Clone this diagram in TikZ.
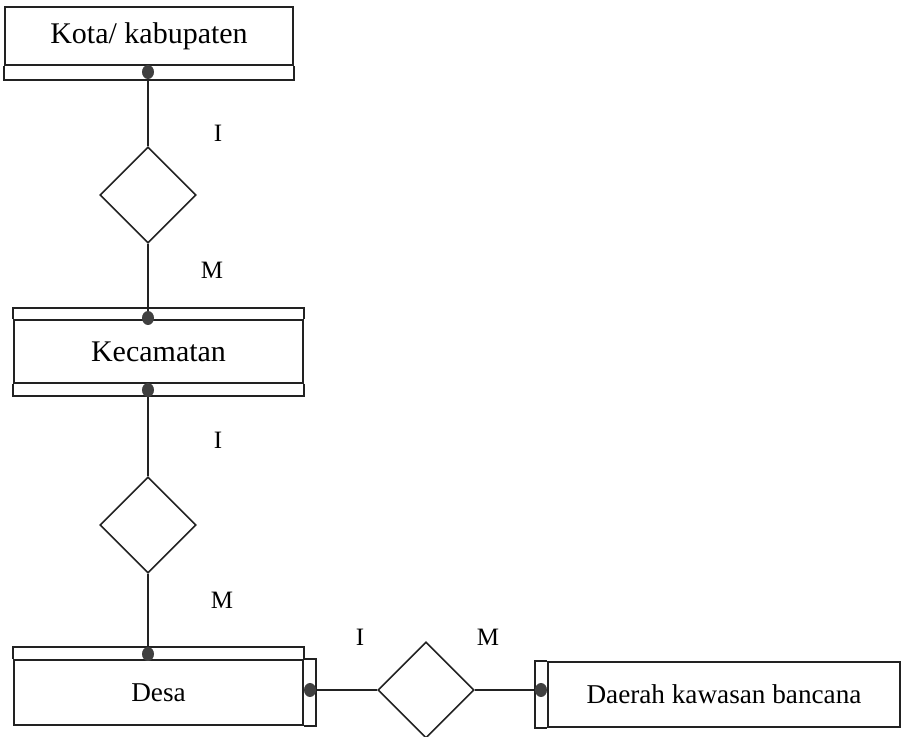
\documentclass[tikz,border=0pt]{standalone}
\usepackage{fontspec}
\setmainfont{Liberation Serif}
\usetikzlibrary{shapes.geometric,calc}
\definecolor{inkc}{HTML}{222222}
\definecolor{dotc}{HTML}{404040}
\begin{document}
\begin{tikzpicture}[x=0.5pt,y=-0.5pt,line width=0.8pt,draw=inkc]
\tikzstyle{ent}=[draw,inner sep=0pt,minimum height=31.5pt,minimum width=144.5pt,font=\fontsize{15}{18}\selectfont]
\tikzstyle{rel}=[draw,diamond,inner sep=0pt,minimum width=48pt,minimum height=48pt]
\tikzstyle{card}=[font=\fontsize{12.5}{15}\selectfont]
\useasboundingbox (0,0) rectangle (902,737);
% entities
\node[ent,minimum width=144pt,minimum height=29pt] (kota) at (149,36) {Kota/ kabupaten};
\draw (kota.south west) -- ++(0,-7pt) -| (kota.south east);
\node[ent] (kec) at (158.5,351.5) {Kecamatan};
\draw (kec.north west) -- ++(0,5.5pt) -| (kec.north east);
\draw (kec.south west) -- ++(0,-6pt) -| (kec.south east);
\node[ent,minimum height=32.5pt,font=\fontsize{13.6}{16}\selectfont] (desa) at (158.5,692.5) {Desa};
\draw (desa.north west) -- ++(0,6pt) -| (desa.north east);
\draw (desa.north east) -- ++(6pt,0) |- (desa.south east);
\node[ent,minimum width=176pt,minimum height=32.5pt,font=\fontsize{13.6}{16}\selectfont] (daerah) at (724,694.5) {Daerah kawasan bancana};
\draw (daerah.north west) -- ++(-6pt,0) |- (daerah.south west);
% relationships
\node[rel] (r1) at (148,195) {};
\node[rel] (r2) at (148,525) {};
\node[rel] (r3) at (426,690) {};
% dots
\coordinate (d1) at (148,72); \coordinate (d2) at (148,318); \coordinate (d3) at (148,390);
\coordinate (d4) at (148,654); \coordinate (d5) at (310,690); \coordinate (d6) at (541,690);
\draw (d1) -- (r1.north); \draw (r1.south) -- (d2);
\draw (d3) -- (r2.north); \draw (r2.south) -- (d4);
\draw (d5) -- (r3.west); \draw (r3.east) -- (d6);
\foreach \d in {d1,d2,d3,d4,d5,d6} \fill[dotc] (\d) ellipse (3pt and 3.5pt);
% cardinality
\node[card] (c1) at (218,133) {I}; \node[card] (c2) at (212,270) {M};
\node[card] (c3) at (218,440) {I}; \node[card] (c4) at (222,600) {M};
\node[card] (c5) at (360,637) {I}; \node[card] (c6) at (488,637) {M};
\end{tikzpicture}
\end{document}
